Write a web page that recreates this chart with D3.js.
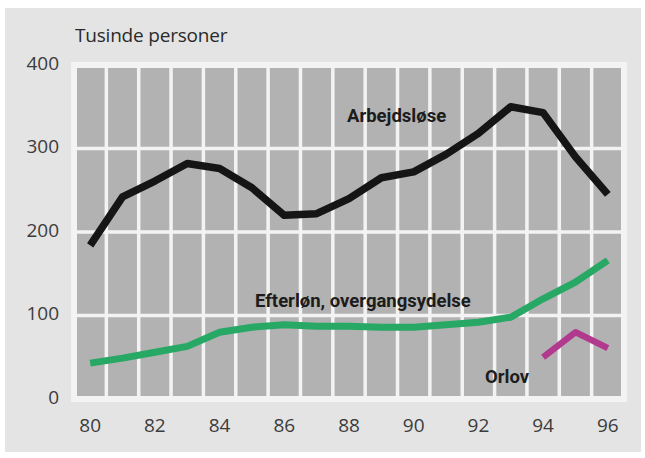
<!DOCTYPE html>
<html>
<head>
<meta charset="utf-8">
<script src="https://cdn.jsdelivr.net/npm/d3@7"></script>
<style>
  body { margin: 0; background: #fff; }
  svg { display: block; }
</style>
</head>
<body>
<div id="chart"></div>
<script>
const years = [80, 81, 82, 83, 84, 85, 86, 87, 88, 89, 90, 91, 92, 93, 94, 95, 96];
const arbejdsloese = [184, 242, 261, 282, 276, 253, 220, 222, 240, 265, 272, 293, 318, 350, 343, 290, 245];
const efterloen = [43, 49, 56, 63, 80, 86, 89, 87, 87, 86, 86, 89, 92, 98, 120, 140, 166];
const orlovYears = [94, 95, 96];
const orlov = [50, 80, 61];
const yTicks = [0, 100, 200, 300, 400];
const xTicks = [80, 82, 84, 86, 88, 90, 92, 94, 96];

const width = 645, height = 458;

const x = d3.scaleLinear().domain([79.5, 96.5]).range([74, 624]);
const y = d3.scaleLinear().domain([0, 400]).range([399, 65]);

const svg = d3.select('#chart')
  .append('svg')
  .attr('width', width)
  .attr('height', height);

// paper background
svg.append('rect')
  .attr('x', 5).attr('y', 8)
  .attr('width', 636).attr('height', 444)
  .attr('fill', '#e4e4e4');

// plot panel
svg.append('rect')
  .attr('x', x(79.5)).attr('y', y(400))
  .attr('width', x(96.5) - x(79.5))
  .attr('height', y(0) - y(400))
  .attr('fill', '#b2b2b2')
  .attr('stroke', '#f3f3f3')
  .attr('stroke-width', 6);

// vertical white lines between years
const grid = svg.append('g').attr('stroke', '#f3f3f3').attr('stroke-width', 3.5);
grid.selectAll('line.v')
  .data(years.slice(0, -1))
  .enter().append('line')
  .attr('class', 'v')
  .attr('x1', (d) => x(d + 0.5)).attr('x2', (d) => x(d + 0.5))
  .attr('y1', y(400)).attr('y2', y(0));

grid.selectAll('line.h')
  .data([100, 200, 300])
  .enter().append('line')
  .attr('class', 'h')
  .attr('x1', x(79.5)).attr('x2', x(96.5))
  .attr('y1', (d) => y(d)).attr('y2', (d) => y(d));

// axis labels
svg.append('g')
  .selectAll('text')
  .data(yTicks)
  .enter().append('text')
  .attr('x', 59)
  .attr('y', (d) => y(d) - 2)
  .attr('dy', '0.36em')
  .attr('text-anchor', 'end')
  .attr('font-family', 'Open Sans, sans-serif')
  .attr('font-size', 19)
  .attr('fill', '#3c3c3c')
  .text((d) => d);

svg.append('g')
  .selectAll('text')
  .data(xTicks)
  .enter().append('text')
  .attr('x', (d) => x(d))
  .attr('y', 432)
  .attr('text-anchor', 'middle')
  .attr('font-family', 'Open Sans, sans-serif')
  .attr('font-size', 19)
  .attr('fill', '#3c3c3c')
  .text((d) => d);

svg.append('text')
  .attr('x', 75).attr('y', 42)
  .attr('font-family', 'Open Sans, sans-serif')
  .attr('font-size', 19)
  .attr('letter-spacing', -0.2)
  .attr('fill', '#2a2a2a')
  .text('Tusinde personer');

// series
const line = d3.line()
  .x((d) => x(d[0]))
  .y((d) => y(d[1]));

function drawSeries(xs, vs, color, w) {
  svg.append('path')
    .datum(d3.zip(xs, vs))
    .attr('d', line)
    .attr('fill', 'none')
    .attr('stroke', color)
    .attr('stroke-width', w)
    .attr('stroke-linejoin', 'round');
}

drawSeries(years, efterloen, '#27a865', 7);
drawSeries(orlovYears, orlov, '#b23a8e', 6.5);
drawSeries(years, arbejdsloese, '#151515', 7.5);

// series labels
const labels = [
  { text: 'Arbejdsløse', x: 347, y: 122 },
  { text: 'Efterløn, overgangsydelse', x: 255, y: 307 },
  { text: 'Orlov', x: 485, y: 383 }
];

svg.append('g')
  .selectAll('text')
  .data(labels)
  .enter().append('text')
  .attr('x', (d) => d.x)
  .attr('y', (d) => d.y)
  .attr('font-family', 'Roboto, sans-serif')
  .attr('font-weight', 'bold')
  .attr('font-size', 18.5)
  .attr('fill', '#1c1c1c')
  .text((d) => d.text);
</script>
</body>
</html>
